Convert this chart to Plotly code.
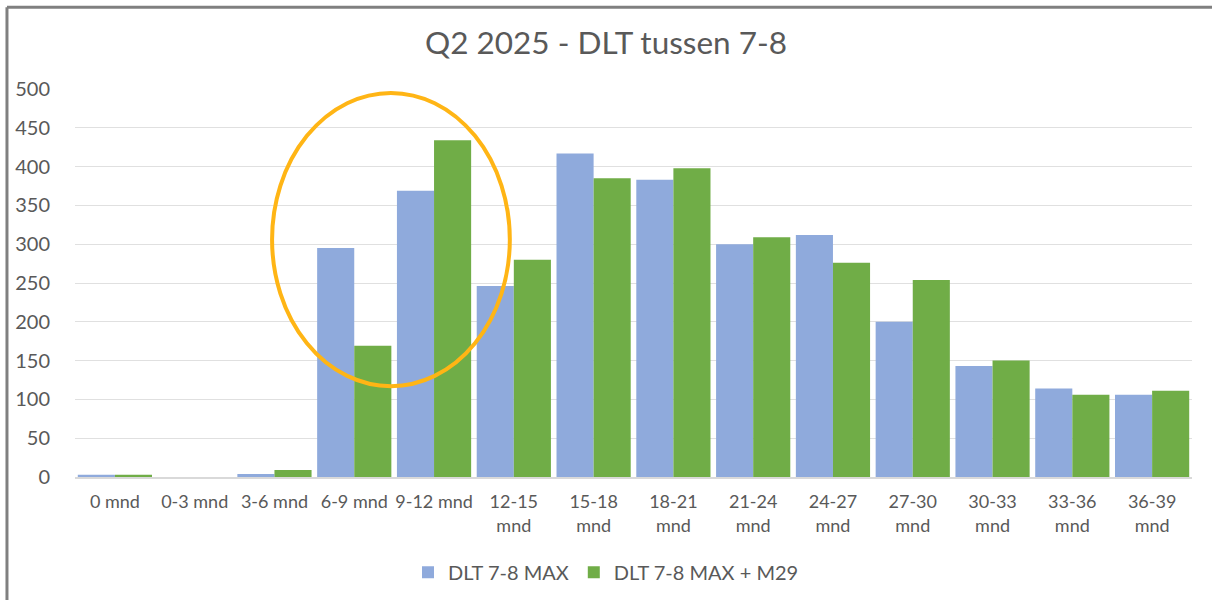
import plotly.graph_objects as go

categories = ["0 mnd", "0-3 mnd", "3-6 mnd", "6-9 mnd", "9-12 mnd", "12-15<br>mnd", "15-18<br>mnd",
              "18-21<br>mnd", "21-24<br>mnd", "24-27<br>mnd", "27-30<br>mnd", "30-33<br>mnd",
              "33-36<br>mnd", "36-39<br>mnd"]
dlt_max = [3, 0, 4, 295, 369, 246, 417, 383, 300, 312, 200, 143, 114, 106]
dlt_max_m29 = [3, 0, 9, 169, 434, 280, 385, 398, 309, 276, 254, 150, 106, 111]
y_ticks = [0, 50, 100, 150, 200, 250, 300, 350, 400, 450, 500]

FONT = "Lato, 'Open Sans', sans-serif"
TXT = "#595959"

fig = go.Figure()
fig.add_trace(go.Bar(name="DLT 7-8 MAX", x=categories, y=dlt_max, marker_color="#8FAADC",
                     marker_line_width=0))
fig.add_trace(go.Bar(name="DLT 7-8 MAX + M29", x=categories, y=dlt_max_m29, marker_color="#70AD47",
                     marker_line_width=0))

fig.update_layout(
    width=1212, height=600,
    margin=dict(l=75, r=20, t=89, b=123, autoexpand=False),
    paper_bgcolor="white", plot_bgcolor="white",
    barmode="group", bargap=0.07, bargroupgap=0,
    title=dict(text="Q2 2025 - DLT tussen 7-8", x=0.5, xanchor="center", y=0.928, yanchor="middle",
               font=dict(family=FONT, size=31.5, color=TXT)),
    font=dict(family=FONT, color=TXT),
    showlegend=True,
    legend=dict(orientation="h", xref="container", x=0.5, xanchor="center", y=-0.195, yanchor="top",
                font=dict(size=20, color=TXT), traceorder="normal", itemsizing="constant"),
    xaxis=dict(showgrid=False, showline=True, linecolor="#d9d9d9", linewidth=1.5, automargin=False,
               tickfont=dict(size=18, color=TXT), ticks="", ticklabelstandoff=8),
    yaxis=dict(range=[0, 500], tickvals=y_ticks, showgrid=True, gridcolor="#e0e0e0", gridwidth=1,
               automargin=False,
               zeroline=False, tickfont=dict(size=20, color=TXT), ticks="", ticklabelstandoff=24),
)

# highlight ellipse around 6-9 and 9-12 mnd
fig.add_shape(type="circle", xref="x", yref="y", x0=1.97, x1=4.95, y0=117, y1=495,
              line=dict(color="#FFB515", width=4), fillcolor="rgba(0,0,0,0)")

# chart frame (left and top border)
fig.add_shape(type="line", xref="paper", yref="paper", x0=-0.0609, x1=-0.0609, y0=-0.35, y1=1.211,
              line=dict(color="#808080", width=3))
fig.add_shape(type="line", xref="paper", yref="paper", x0=-0.0609, x1=1.03, y0=1.211, y1=1.211,
              line=dict(color="#808080", width=3))

fig.write_html("out.html", config={"displayModeBar": False}, default_width="1212px", default_height="600px",
               post_script="document.documentElement.style.overflow='hidden';"
                           "document.body.style.margin='0';document.body.style.overflow='hidden';")
